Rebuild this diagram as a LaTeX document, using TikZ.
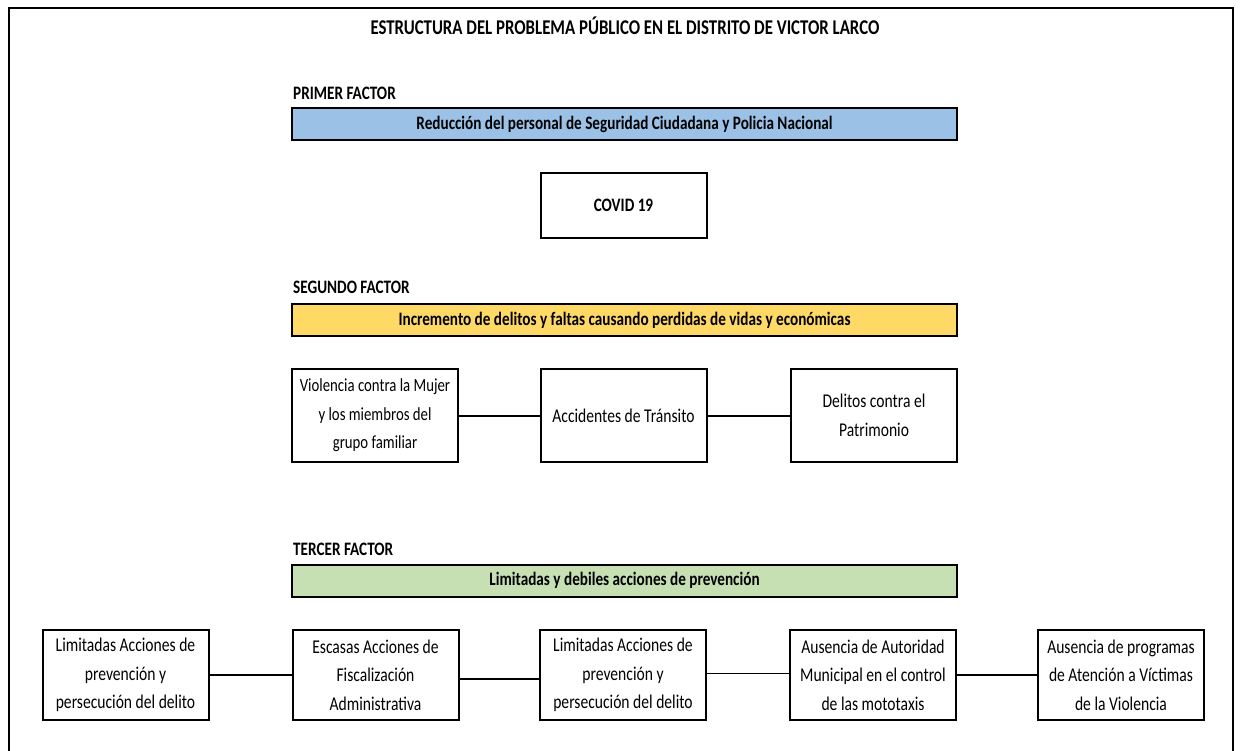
\documentclass[tikz,border=0pt]{standalone}
\usepackage{fontspec}
\setmainfont{Carlito}[FakeStretch=0.8]
\definecolor{azul}{RGB}{155,194,230}
\definecolor{amarillo}{RGB}{255,217,102}
\definecolor{verde}{RGB}{198,224,180}
\begin{document}
\begin{tikzpicture}[x=1pt,y=-1pt,
    caja/.style={draw,line width=2pt,minimum width=166pt,minimum height=92pt,inner sep=0pt,align=center,font=\fontsize{19.5}{28.5}\selectfont},
    barra/.style={draw,line width=2pt,minimum width=665pt,minimum height=32pt,inner sep=0pt,font=\bfseries\fontsize{19}{22}\selectfont},
    factor/.style={anchor=base west,inner sep=0pt,font=\bfseries\fontsize{19}{22}\selectfont},
    enlace/.style={line width=2pt}]
  \useasboundingbox (0,0) rectangle (1240,751);
  \draw[line width=1.2pt] (9,760)--(9,8)--(1233,8)--(1233,760);
  \node[anchor=base,inner sep=0pt,font=\bfseries\fontsize{21}{24}\selectfont] (titulo) at (625,35) {ESTRUCTURA DEL PROBLEMA PÚBLICO EN EL DISTRITO DE VICTOR LARCO};
  % primer factor
  \node[factor] (lf1) at (293,100) {PRIMER FACTOR};
  \node[barra,fill=azul] (f1) at (624.5,124.5) {Reducción del personal de Seguridad Ciudadana y Policia Nacional};
  \node[caja,minimum height=65pt,font=\bfseries\fontsize{19}{22}\selectfont] (covid) at (623.5,205.5) {COVID 19};
  % segundo factor
  \node[factor] (lf2) at (293,294) {SEGUNDO FACTOR};
  \node[barra,fill=amarillo] (f2) at (624.5,320) {Incremento de delitos y faltas causando perdidas de vidas y económicas};
  \node[caja,minimum height=93pt,font=\fontsize{18.5}{28.5}\selectfont] (v1) at (375,415.5) {Violencia contra la Mujer\\y los miembros del\\grupo familiar};
  \node[caja,minimum height=93pt] (v2) at (623.5,415.5) {Accidentes de Tránsito};
  \node[caja,minimum height=93pt] (v3) at (874,415.5) {Delitos contra el\\Patrimonio};
  \draw[enlace] (v1) -- (v2);
  \draw[enlace] (v2) -- (v3);
  % tercer factor
  \node[factor] (lf3) at (293,555) {TERCER FACTOR};
  \node[barra,fill=verde] (f3) at (624.5,580.5) {Limitadas y debiles acciones de prevención};
  \node[caja,minimum height=90pt] (a1) at (125.5,675) {Limitadas Acciones de\\prevención y\\persecución del delito};
  \node[caja,minimum height=90pt] (a2) at (375.5,675) {Escasas Acciones de\\Fiscalización\\Administrativa};
  \node[caja,minimum height=90pt] (a3) at (623,675) {Limitadas Acciones de\\prevención y\\persecución del delito};
  \node[caja,minimum height=90pt] (a4) at (873,675) {Ausencia de Autoridad\\Municipal en el control\\de las mototaxis};
  \node[caja,minimum height=90pt] (a5) at (1121,675) {Ausencia de programas\\de Atención a Víctimas\\de la Violencia};
  \draw[enlace] (a1) -- (a2);
  \draw[enlace] ([yshift=-4pt]a2.east) -- ([yshift=-4pt]a3.west);
  \draw[line width=1pt] ([yshift=2pt]a3.east) -- ([yshift=2pt]a4.west);
  \draw[enlace] (a4) -- (a5);
\end{tikzpicture}
\end{document}
